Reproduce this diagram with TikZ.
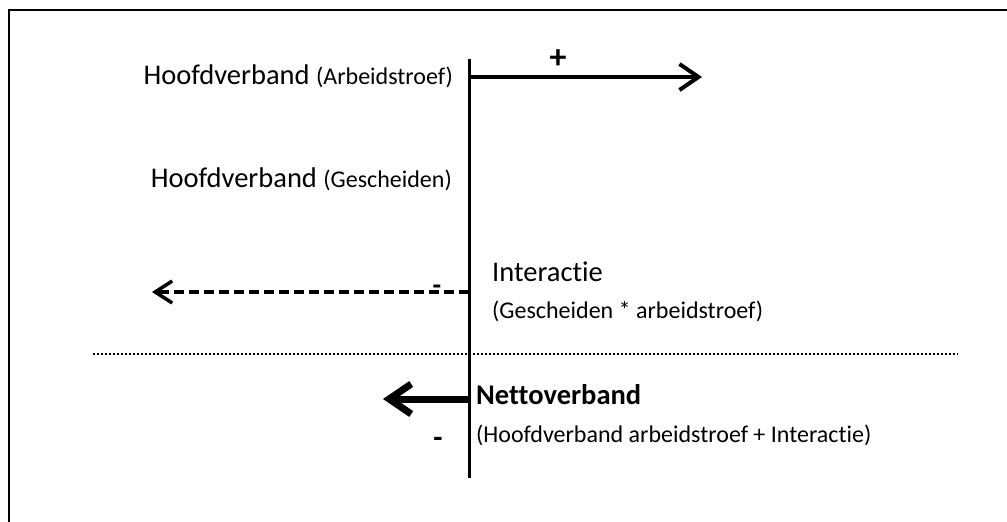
\documentclass[tikz,border=0pt]{standalone}
\usepackage{fontspec}
\setmainfont[Ligatures={NoCommon}]{Carlito}
\usetikzlibrary{positioning,arrows.meta}
\tikzset{
  big/.style={inner sep=0pt, font=\fontsize{28.5}{32}\selectfont},
  small/.style={inner sep=0pt, font=\fontsize{24}{28}\selectfont},
  sign/.style={inner sep=0pt, font=\fontsize{34}{38}\selectfont\bfseries},
  axis/.style={line width=3pt},
  plus/.style={line width=4pt, -{Straight Barb[length=19pt, width=26pt]}},
  inter/.style={line width=3.5pt, dash pattern=on 10pt off 5pt, -{Straight Barb[length=17pt, width=22pt]}},
  netto/.style={line width=7pt, -{Straight Barb[length=22pt, width=30pt]}},
  sep/.style={line width=1.8pt, dash pattern=on 2pt off 2pt}
}
\begin{document}
\begin{tikzpicture}[x=1pt, y=-1pt]
	\useasboundingbox (0,0) rectangle (1007,522);
	% frame
	\draw[line width=2.5pt] (9,522) -- (9,10) -- (1007,10);

	% axis
	\coordinate (axtop) at (469,59);
	\coordinate (axbot) at (469,478);
	\draw[axis] (axtop) -- (axbot);

	% main effects
	\node[big, anchor=base east] (hvarb) at (453,84) {Hoofdverband {\fontsize{24}{28}\selectfont (Arbeidstroef)}};
	\node[big, anchor=base east] (hvges) at (452,187) {Hoofdverband {\fontsize{24}{28}\selectfont (Gescheiden)}};
	\coordinate (arbstart) at (469,77);
	\coordinate (arbend) at (702,77);
	\draw[plus] (arbstart) -- (arbend);
	\node[sign] (arbsign) at (558,59) {+};

	% interaction
	\node[big, anchor=base west] (inter) at (492,281) {Interactie};
	\node[small, anchor=base west] (intersub) at (492,318) {(Gescheiden * arbeidstroef)};
	\coordinate (intstart) at (469,292);
	\coordinate (intend) at (152,292);
	\draw[inter] (intstart) -- (intend);
	\node[sign, font=\fontsize{28}{32}\selectfont\bfseries] (intsign) at (437,290) {-};

	% separator
	\coordinate (sepl) at (93,354);
	\coordinate (sepr) at (958,354);
	\draw[sep] (sepl) -- (sepr);

	% net effect
	\node[big, font=\fontsize{28.5}{32}\selectfont\bfseries, anchor=base west] (net) at (476,404) {Nettoverband};
	\node[small, anchor=base west] (netsub) at (476,442) {(Hoofdverband arbeidstroef + Interactie)};
	\coordinate (netstart) at (469,399);
	\coordinate (netend) at (383,399);
	\draw[netto] (netstart) -- (netend);
	\node[sign, font=\fontsize{30}{34}\selectfont\bfseries] (netsign) at (438,442) {-};
\end{tikzpicture}
\end{document}
